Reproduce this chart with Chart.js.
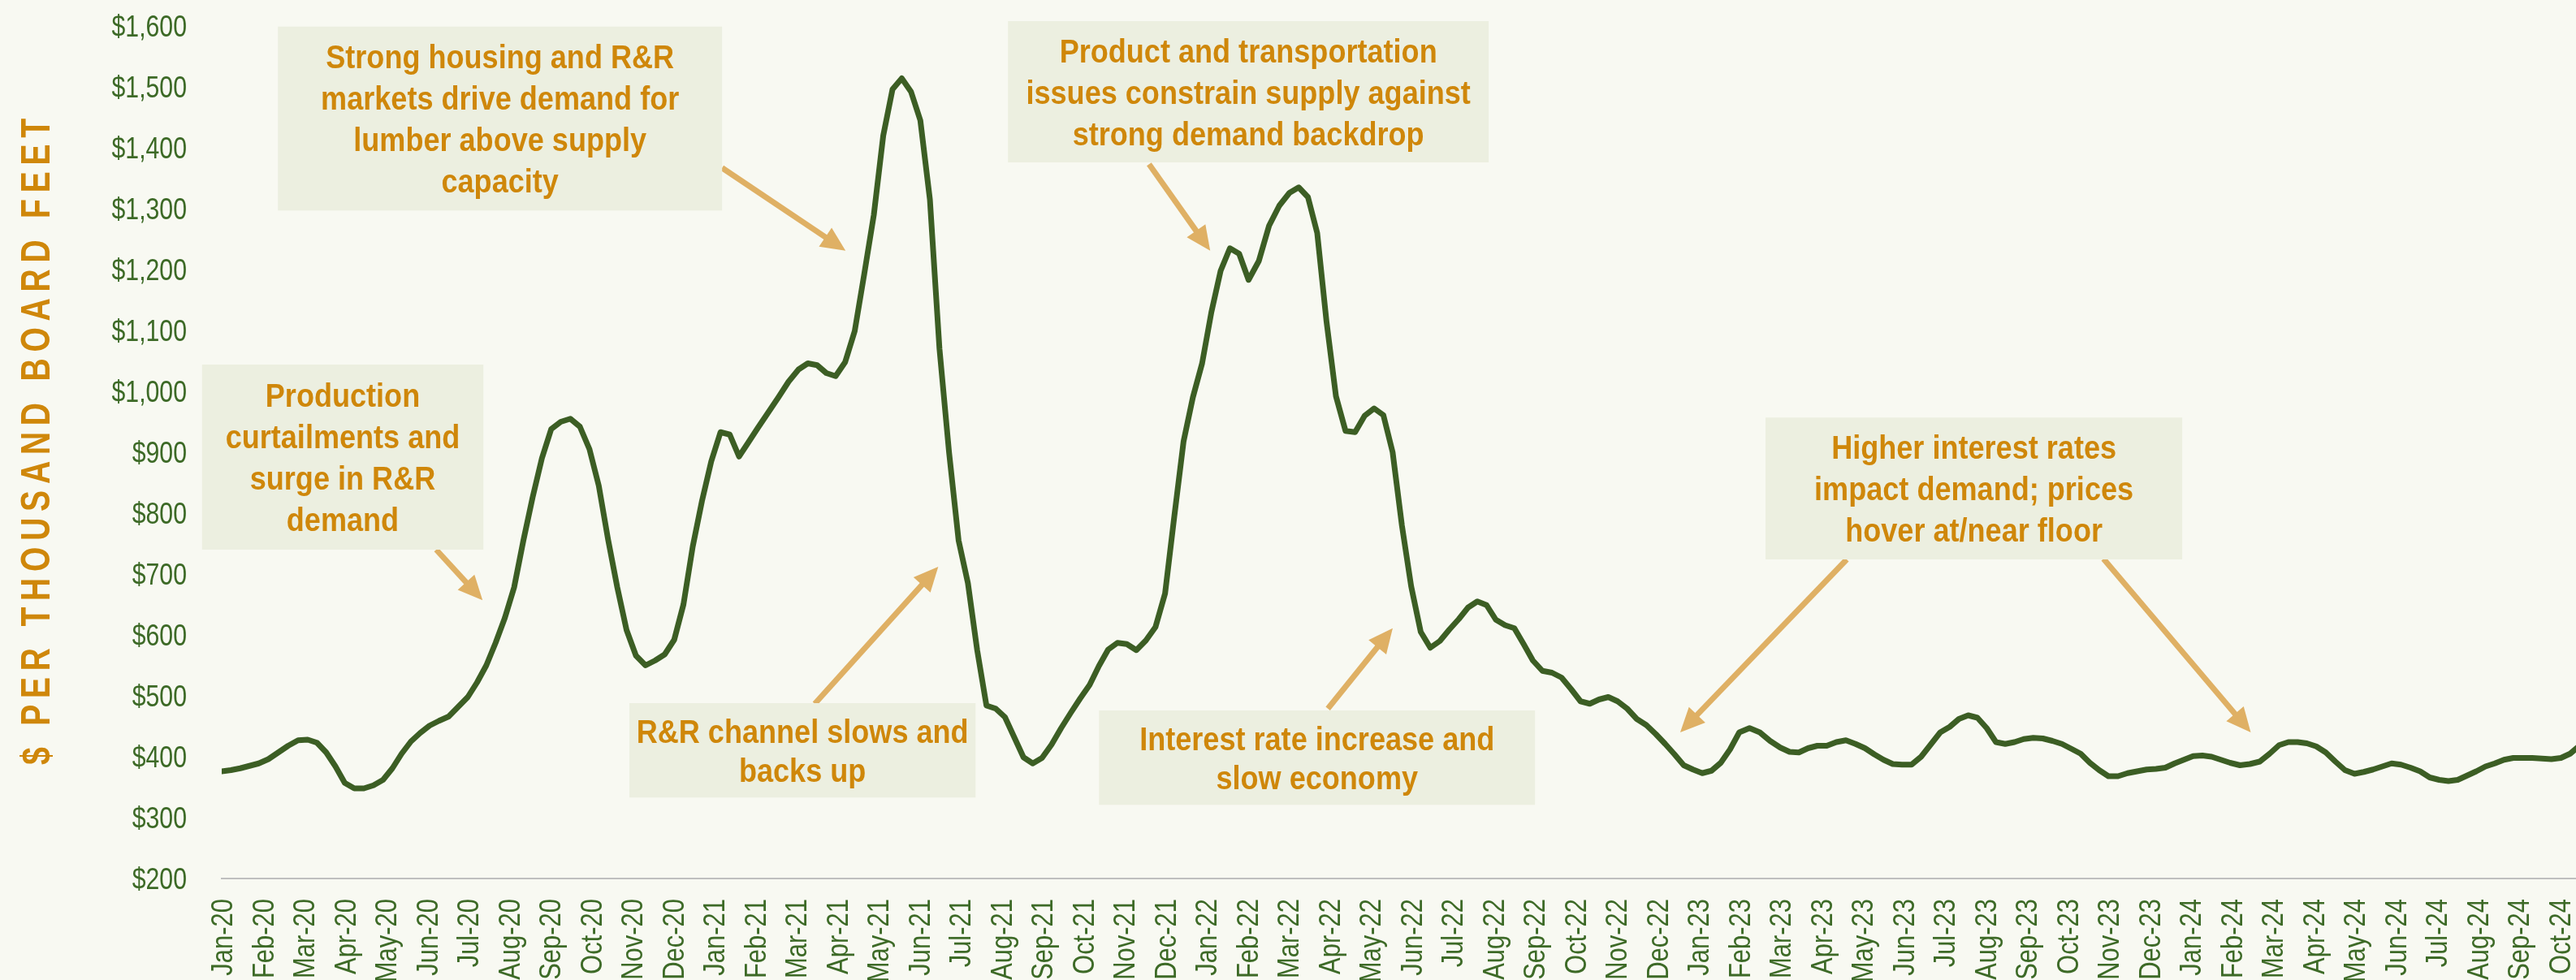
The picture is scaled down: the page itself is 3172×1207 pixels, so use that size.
<!DOCTYPE html>
<html><head><meta charset="utf-8">
<script src="https://cdn.jsdelivr.net/npm/chart.js@4.4.1/dist/chart.umd.min.js"></script>
<style>html,body{margin:0;padding:0;background:#F8F9F2;}canvas{display:block}</style>
</head><body>
<canvas id="c" width="3172" height="1207"></canvas>
<script>
// ---- DATA ----
const months = ['Jan-20','Feb-20','Mar-20','Apr-20','May-20','Jun-20','Jul-20','Aug-20','Sep-20','Oct-20','Nov-20','Dec-20',
 'Jan-21','Feb-21','Mar-21','Apr-21','May-21','Jun-21','Jul-21','Aug-21','Sep-21','Oct-21','Nov-21','Dec-21',
 'Jan-22','Feb-22','Mar-22','Apr-22','May-22','Jun-22','Jul-22','Aug-22','Sep-22','Oct-22','Nov-22','Dec-22',
 'Jan-23','Feb-23','Mar-23','Apr-23','May-23','Jun-23','Jul-23','Aug-23','Sep-23','Oct-23','Nov-23','Dec-23',
 'Jan-24','Feb-24','Mar-24','Apr-24','May-24','Jun-24','Jul-24','Aug-24','Sep-24','Oct-24'];
const weekStart = '2020-01-01';   // weekly observations
const prices = [
 376,378,381,385,389,396,407,418,427,428,
 423,407,384,357,348,348,353,362,381,405,
 425,439,451,459,466,482,498,522,550,587,
 628,678,755,826,890,938,950,955,942,905,
 845,757,678,608,566,550,558,568,592,650,
 745,820,885,933,929,893,916,940,965,990,
 1016,1036,1046,1043,1030,1025,1048,1099,1193,1290,
 1420,1496,1514,1492,1445,1315,1070,900,755,685,
 575,484,479,465,432,399,389,398,420,447,
 472,496,518,549,576,587,585,575,591,613,
 668,795,918,990,1046,1130,1198,1235,1226,1183,
 1214,1272,1305,1326,1335,1319,1260,1115,992,935,
 933,960,972,961,900,780,680,605,579,590,
 609,626,645,655,649,625,616,611,585,558,
 541,538,530,511,491,487,494,498,491,479,
 462,452,437,421,404,386,379,373,377,390,
 412,440,447,440,426,415,408,407,414,418,
 418,424,427,421,414,404,395,388,387,387,
 400,420,440,449,462,468,464,447,424,421,
 424,429,431,430,426,421,413,405,390,378,
 368,368,373,376,379,380,382,389,395,401,
 402,400,395,390,386,388,392,405,419,424,
 424,422,417,407,392,378,372,375,379,384,
 389,387,382,376,366,362,360,362,369,376,
 384,389,395,398,398,398,397,396,398,405,
 418];
const yMin = 200, yMax = 1600, yStep = 100;
const axisTitle = '$ PER THOUSAND BOARD FEET';

// annotation texts, anchored in data coordinates (month index, price)
const notes = [
 {lines:['Strong housing and R&R','markets drive demand for','lumber above supply','capacity'],
  box:[1.37,12.20,1599,1297], arrow:[12.20,1367,15.21,1231]},
 {lines:['Production','curtailments and','surge in R&R','demand'],
  box:[-0.48,6.38,1044,740], arrow:[5.23,740,6.36,657]},
 {lines:['R&R channel slows and','backs up'],
  box:[9.94,18.38,488,333], arrow:[14.46,487,17.47,712]},
 {lines:['Product and transportation','issues constrain supply against','strong demand backdrop'],
  box:[19.17,30.89,1608,1376], arrow:[22.61,1373,24.10,1231]},
 {lines:['Interest rate increase and','slow economy'],
  box:[21.39,32.02,476,321], arrow:[26.97,479,28.55,611]},
 {lines:['Higher interest rates','impact demand; prices','hover at/near floor'],
  box:[37.64,47.80,957,724], arrow:[39.62,724,35.56,440]},
 {lines:[], box:null, arrow:[45.88,725,49.47,440]}
];

// ---- helpers ----
function monthPos(d){
  const y=d.getUTCFullYear(), mo=d.getUTCMonth(), day=d.getUTCDate();
  const dim=new Date(Date.UTC(y,mo+1,0)).getUTCDate();
  return (y-2020)*12+mo+(day-1)/dim;
}
const t0 = new Date(weekStart+'T00:00:00Z').getTime();
const points = prices.map((v,i)=>({x:monthPos(new Date(t0+i*7*86400000)), y:v}));

const COL_BG='#F8F9F2', COL_BOX='#ECEFE0', COL_TXT='#CF870A', COL_LINE='#3C5E24',
      COL_TICK='#3D6A27', COL_ARROW='#DFB064', COL_AXIS='#BFBFBF';
const FONT_FAM='"Liberation Sans", Arial, sans-serif';

function condText(ctx, text, x, y, sx, align){
  ctx.save(); ctx.translate(x,y); ctx.scale(sx,1); ctx.textAlign=align||'center'; ctx.fillText(text,0,0); ctx.restore();
}
function drawArrow(ctx,x1,y1,x2,y2){
  const ang=Math.atan2(y2-y1,x2-x1), hl=30, hw=14;
  const bx=x2-hl*Math.cos(ang), by=y2-hl*Math.sin(ang);
  ctx.save();
  ctx.strokeStyle=COL_ARROW; ctx.fillStyle=COL_ARROW; ctx.lineWidth=7; ctx.lineCap='butt';
  ctx.beginPath(); ctx.moveTo(x1,y1); ctx.lineTo(bx+2*Math.cos(ang),by+2*Math.sin(ang)); ctx.stroke();
  ctx.beginPath(); ctx.moveTo(x2,y2);
  ctx.lineTo(bx+hw*Math.sin(ang), by-hw*Math.cos(ang));
  ctx.lineTo(bx-hw*Math.sin(ang), by+hw*Math.cos(ang));
  ctx.closePath(); ctx.fill();
  ctx.restore();
}

const bgPlugin = {id:'bg', beforeDraw(chart){
  const ctx=chart.ctx; ctx.save(); ctx.fillStyle=COL_BG; ctx.fillRect(0,0,chart.width,chart.height); ctx.restore();
}};
// condensed tick labels placed with the library's scales
const tickPlugin = {id:'condTicks', afterDraw(chart){
  const ctx=chart.ctx, sx=chart.scales.x, sy=chart.scales.y;
  ctx.save();
  ctx.fillStyle=COL_TICK; ctx.font='36px '+FONT_FAM; ctx.textBaseline='alphabetic';
  sy.ticks.forEach(t=>{
    const y=sy.getPixelForValue(t.value);
    condText(ctx,'$'+Number(t.value).toLocaleString('en-US'), sx.left-43, y+13, 0.84, 'right');
  });
  sx.ticks.forEach(t=>{
    const lbl=months[t.value]; if(!lbl) return;
    const x=sx.getPixelForValue(t.value);
    ctx.save(); ctx.translate(x, sx.top+25); ctx.rotate(-Math.PI/2); ctx.scale(0.86,1);
    ctx.textAlign='right'; ctx.fillText(lbl,0,13); ctx.restore();
  });
  ctx.restore();
}};
const notePlugin = {id:'notes', afterDatasetsDraw(chart){
  const ctx=chart.ctx, sx=chart.scales.x, sy=chart.scales.y;
  // axis title
  ctx.save();
  ctx.translate(43,540); ctx.rotate(-Math.PI/2); ctx.scale(0.78,1);
  ctx.font='bold 50px '+FONT_FAM;
  ctx.fillStyle=COL_TXT; ctx.textAlign='center'; ctx.textBaseline='alphabetic';
  try{ ctx.letterSpacing='10px'; }catch(e){}
  ctx.fillText(axisTitle,0,18);
  ctx.restore();
  notes.forEach(n=>{
    if(n.arrow){
      drawArrow(ctx, sx.getPixelForValue(n.arrow[0]), sy.getPixelForValue(n.arrow[1]),
                     sx.getPixelForValue(n.arrow[2]), sy.getPixelForValue(n.arrow[3]));
    }
  });
  notes.forEach(n=>{
    if(!n.box) return;
    const x0=sx.getPixelForValue(n.box[0]), x1=sx.getPixelForValue(n.box[1]);
    const y0=sy.getPixelForValue(n.box[2]), y1=sy.getPixelForValue(n.box[3]);
    ctx.save();
    ctx.fillStyle=COL_BOX; ctx.fillRect(x0,y0,x1-x0,y1-y0);
    ctx.fillStyle=COL_TXT; ctx.font='bold 41px '+FONT_FAM; ctx.textBaseline='alphabetic';
    const cx=(x0+x1)/2, cy=(y0+y1)/2, lh=n.lines.length>2?51:48;
    n.lines.forEach((t,i)=>{ condText(ctx,t,cx,cy+(i-(n.lines.length-1)/2)*lh+14.5,0.88); });
    ctx.restore();
  });
}};

new Chart(document.getElementById('c'), {
  type:'line',
  data:{datasets:[{data:points, borderColor:COL_LINE, borderWidth:7, pointRadius:0, tension:0,
    fill:false, borderJoinStyle:'round', borderCapStyle:'round'}]},
  options:{
    responsive:false, animation:false, devicePixelRatio:1,
    layout:{padding:{top:32,left:0,right:0,bottom:0}},
    plugins:{legend:{display:false}, tooltip:{enabled:false}},
    scales:{
      x:{type:'linear', min:0, max:57.4,
        grid:{display:false}, border:{display:true,color:COL_AXIS,width:2},
        afterBuildTicks:(s)=>{ s.ticks = months.map((_,i)=>({value:i})); },
        afterFit:(s)=>{ s.height=125; s.paddingLeft=0; s.paddingRight=0; },
        ticks:{display:false, autoSkip:false}
      },
      y:{min:yMin, max:yMax,
        grid:{display:false}, border:{display:false},
        afterFit:(s)=>{ s.width=273; s.paddingTop=0; s.paddingBottom=0; },
        ticks:{display:false, stepSize:yStep}
      }
    }
  },
  plugins:[bgPlugin, notePlugin, tickPlugin]
});
</script>
</body></html>
